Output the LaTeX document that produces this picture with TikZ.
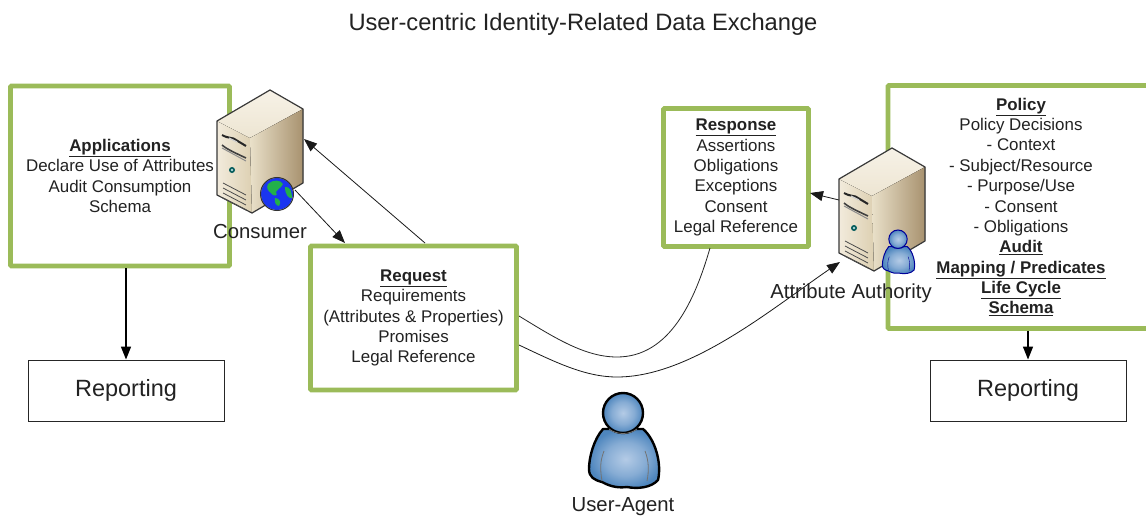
\documentclass[tikz,border=0pt]{standalone}
\usepackage{fontspec}
\setmainfont{Liberation Sans}
\usetikzlibrary{arrows.meta,shadings}
\definecolor{boxgreen}{HTML}{9BBB59}
\definecolor{inkgrey}{HTML}{222222}
\definecolor{srvdark}{HTML}{3A3A3A}
\definecolor{pmid}{HTML}{B4CBE6}
\definecolor{pedge}{HTML}{4E86BE}
\definecolor{srvfrontA}{HTML}{F2EBDC}
\definecolor{srvfrontB}{HTML}{DDD0B2}
\definecolor{srvtopA}{HTML}{F7F2E7}
\definecolor{srvtopB}{HTML}{EDE5D2}
\definecolor{srvsideA}{HTML}{E9E0C9}
\definecolor{srvsideB}{HTML}{A8926F}
\definecolor{globeblue}{HTML}{1A35F0}
\definecolor{globegreen}{HTML}{22B04A}
\pgfdeclareradialshading{pshade}{\pgfpoint{0bp}{0bp}}{color(0bp)=(pmid); color(14bp)=(pmid!55!pedge); color(25bp)=(pedge); color(50bp)=(pedge)}
\tikzset{
  x=1pt,y=-1pt,
  greenbox/.style={draw=boxgreen,line width=4.6pt,fill=white,rounded corners=0.8pt,align=center,
    font=\fontsize{16.9}{20.35}\selectfont,text=inkgrey,inner sep=0pt,anchor=center},
  reportbox/.style={draw=black!85,line width=0.9pt,fill=white,font=\fontsize{23.5}{28}\selectfont,text=inkgrey,
    minimum width=196pt,minimum height=61pt,inner sep=0pt},
  plainlabel/.style={font=\fontsize{20.3}{24}\selectfont,text=inkgrey,inner sep=0pt},
  thinarrow/.style={draw=black!90,line width=0.8pt,-{Triangle[length=13pt,width=10pt]}},
  thinline/.style={draw=black!85,line width=0.8pt},
  heavyarrow/.style={draw=black,line width=1.4pt,-{Triangle[length=13pt,width=10pt]}},
  personline/.style={draw=black,line width=2.4pt},
  personfold/.style={draw=black!55,line width=0.8pt},
  pics/server/.style={code={
    \fill[left color=srvfrontA,right color=srvfrontB] (0,31)--(33,48)--(35,123)--(0,105)--cycle;
    \fill[bottom color=srvtopB,top color=srvtopA] (0,31)--(53,0)--(86,19)--(33,48)--cycle;
    \fill[left color=srvsideA,right color=srvsideB] (33,48)--(86,19)--(86,93)--(35,123)--cycle;
    \draw[srvdark,line width=1.2pt,line join=round] (0,31)--(53,0)--(86,19)--(86,93)--(35,123)--(0,105)--cycle;
    \draw[black!85,line width=2pt] (5,45) .. controls (12,49) and (16,47) .. (19,50) -- (29,56);
    \draw[black!20,line width=1.2pt] (12,48)--(20,52);
    \draw[black!75,line width=1.6pt] (5,55) .. controls (8,58) and (16,62) .. (29,68);
    \draw[black!45,line width=1pt] (5,58) -- (29,71);
    \fill[teal!70!black] (15,80) circle (3);
    \fill[teal!30!white] (15,80) circle (1.3);
    \foreach \d in {0,5,10,15}{\draw[black!70,line width=0.8pt] (6,{93+\d})--(29,{105+\d});}
  }},
  pics/person/.style={code={
    \path[personline,shading=pshade,line join=round]
      (-20,36) .. controls (-29,46) and (-34,64) .. (-34,76)
      .. controls (-34,84) and (-29,87) .. (-21,89)
      .. controls (-12,94) and (-4,95) .. (4,94)
      .. controls (14,96) and (28,95) .. (35,87)
      .. controls (39,70) and (32,46) .. (20,36) -- cycle;
    \draw[personfold] (-19,58) .. controls (-23,68) and (-23,76) .. (-21,88);
    \draw[personfold] (22,58) .. controls (26,68) and (26,78) .. (24,88);
    \path[personline,shading=pshade] (0,20) circle (20);
    \draw[personfold] (-14,36) .. controls (-6,42) and (6,42) .. (14,36);
  }},
}
\begin{document}
\begin{tikzpicture}
\useasboundingbox (0,0) rectangle (1146,516);
\clip (0,0) rectangle (1146,516);
\fill[white] (0,0) rectangle (1146,516);

\node[font=\fontsize{23.7}{28}\selectfont,text=inkgrey,inner sep=0pt] (title) at (583,24.5) {User-centric Identity-Related Data Exchange};

% green boxes
\node[greenbox,minimum width=219pt,minimum height=180pt] (apps) at (120,176) {\textbf{\underline{Applications}}\\Declare Use of Attributes\\Audit Consumption\\Schema};
\node[greenbox,minimum width=206pt,minimum height=144pt] (request) at (413.5,318) {\textbf{\underline{Request}}\\Requirements\\(Attributes \& Properties)\\Promises\\Legal Reference};
\node[greenbox,minimum width=145pt,minimum height=138pt] (response) at (736,177.5) {\textbf{\underline{Response}}\\Assertions\\Obligations\\Exceptions\\Consent\\Legal Reference};
\node[greenbox,minimum width=266pt,minimum height=243pt] (policy) at (1021,207) {\textbf{\underline{Policy}}\\Policy Decisions\\- Context\\- Subject/Resource\\- Purpose/Use\\- Consent\\- Obligations\\\textbf{\underline{Audit}}\\\textbf{\underline{Mapping / Predicates}}\\\textbf{\underline{Life Cycle}}\\\textbf{\underline{Schema}}};

\node[reportbox] (repL) at (126,390.5) {Reporting};
\node[reportbox] (repR) at (1028,390.5) {Reporting};

% servers
\pic at (217,90) {server};
\pic at (839,148) {server};

% globe
\fill[globeblue] (277,194) circle (16);
\fill[globegreen] (268,184) .. controls (273,179) and (281,180) .. (283,184) .. controls (280,190) and (277,188) .. (276,192) .. controls (279,196) and (273,197) .. (271,193) .. controls (268,191) and (266,188) .. (268,184) -- cycle;
\fill[globegreen] (285,187) .. controls (290,186) and (292,192) .. (292,198) .. controls (289,199) and (285,195) .. (285,187) -- cycle;
\fill[globegreen] (275,198) .. controls (279,198) and (282,202) .. (279,206) .. controls (276,206) and (274,202) .. (275,198) -- cycle;
\draw[black!80,line width=1pt] (277,194) circle (16.5);

% small person on authority server
\begin{scope}[personline/.style={draw=blue!60!black,line width=1pt},personfold/.style={draw=blue!60!black,line width=0.4pt}]
\pic[scale=0.46] at (898,230) {person};
\end{scope}
% user-agent
\pic at (623,393) {person};

% anchor points of connectors
\coordinate (consumerIn) at (304,139);
\coordinate (consumerOut) at (295,190);
\coordinate (authorityOut) at (839,200);
\coordinate (authorityIn) at (840,262);
\coordinate (reqTop) at (425,243);
\coordinate (reqTarget) at (345,243);
\coordinate (reqR1) at (519,316);
\coordinate (reqR2) at (519,345);
\coordinate (respBottom) at (710,248);
\coordinate (respEntry) at (810,193);

\draw[thinarrow] (reqTop) -- (consumerIn);
\draw[thinarrow] (consumerOut) -- (reqTarget);
\draw[thinarrow] (authorityOut) -- (respEntry);
\draw[thinline] (reqR1) .. controls (555,338) and (585,357) .. (617,357) .. controls (670,357) and (695,300) .. (respBottom);
\draw[thinarrow] (reqR2) .. controls (555,362) and (585,377) .. (617,377) .. controls (690,377) and (770,310) .. (authorityIn);
\draw[heavyarrow] (apps.south -| repL) -- (repL.north);
\draw[heavyarrow] (policy.south -| repR) -- (repR.north);

% labels
\node[plainlabel] (consumer) at (260,232) {Consumer};
\node[plainlabel] (authority) at (851,293) {Attribute Authority};
\node[plainlabel] (agent) at (623,507) {User-Agent};
\end{tikzpicture}
\end{document}
